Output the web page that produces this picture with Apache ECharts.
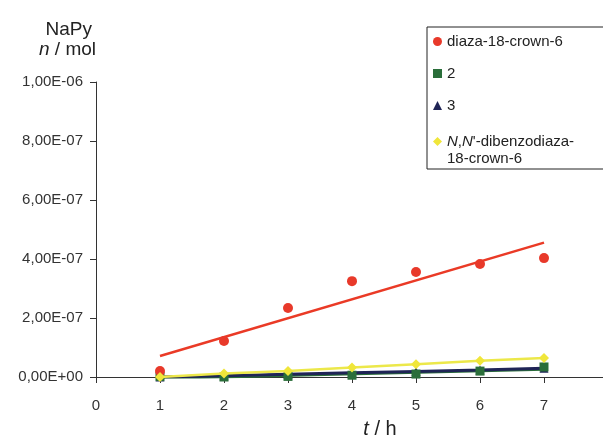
<!DOCTYPE html>
<html>
<head>
<meta charset="utf-8">
<script src="https://cdn.jsdelivr.net/npm/echarts@6/dist/echarts.min.js"></script>
<style>
  html, body { margin: 0; padding: 0; background: #fff; }
  #chart { width: 603px; height: 440px; }
</style>
</head>
<body>
<div id="chart"></div>
<script>
// hours
var hours = [1, 2, 3, 4, 5, 6, 7];
// n(NaPy) / mol
var diaza = [2.0e-8, 1.22e-7, 2.34e-7, 3.25e-7, 3.56e-7, 3.83e-7, 4.03e-7];
var comp2 = [0.2e-8, 0, 0.2e-8, 0.6e-8, 1.0e-8, 2.0e-8, 3.4e-8];
var comp3 = [0, 0.4e-8, 0.9e-8, 1.4e-8, 1.9e-8, 2.4e-8, 3.0e-8];
var dibenzo = [0, 1.2e-8, 2.0e-8, 3.2e-8, 4.3e-8, 5.5e-8, 6.4e-8];
var names = ['diaza-18-crown-6', '2', '3', "N,N'-dibenzodiaza-18-crown-6"];

var font = 'Liberation Sans, Arial, sans-serif';

function pairs(ys) {
	return hours.map(function(x, i){ return [x, ys[i]]; });
}

// least squares trend line, first and last hour
function trend(ys) {
	var n = hours.length, sx = 0, sy = 0, sxx = 0, sxy = 0;
	for (var i = 0; i < n; i++) {
		sx += hours[i]; sy += ys[i];
		sxx += hours[i] * hours[i]; sxy += hours[i] * ys[i];
	}
	var b = (n * sxy - sx * sy) / (n * sxx - sx * sx);
	var a = (sy - b * sx) / n;
	var x0 = hours[0], x1 = hours[n - 1];
	return [[x0, a + b * x0], [x1, a + b * x1]];
}

// 1,00E-06 style
function fmt(v) {
	var p = v.toExponential(2).split('e');
	var e = parseInt(p[1], 10);
	var ae = Math.abs(e);
	return p[0].replace('.', ',') + 'E' + (e < 0 ? '-' : '+') + (ae < 10 ? '0' : '') + ae;
}

var myChart = echarts.init(document.getElementById('chart'));

var option = {
	backgroundColor: '#fff',
	animation: false,
	grid: { left: 96, right: -5, top: 82, bottom: 63, outerBoundsMode: 'none' },
	legend: {
		orient: 'vertical',
		left: 427,
		top: 27,
		itemWidth: 9,
		itemHeight: 9,
		itemGap: 15,
		padding: [6, 30, 3, 6],
		borderColor: '#222',
		borderWidth: 1,
		textStyle: {
			fontFamily: font, fontSize: 15, color: '#222', lineHeight: 17,
			rich: { i: { fontFamily: font, fontSize: 15, fontStyle: 'italic', color: '#222', lineHeight: 17 } }
		},
		data: [
			{ name: names[0], icon: 'circle' },
			{ name: names[1], icon: 'rect' },
			{ name: names[2], icon: 'triangle' },
			{ name: names[3], icon: 'diamond', textStyle: { padding: [4, 0, -13, 0] } }
		],
		formatter: function(name) {
			if (name === names[3]) return "{i|N},{i|N}'-dibenzodiaza-\n18-crown-6";
			return name;
		}
	},
	xAxis: {
		type: 'value',
		min: 0, max: 8, interval: 1,
		name: '{i|t} / h',
		nameLocation: 'middle',
		nameGap: 42,
		nameTextStyle: {
			fontFamily: font, fontSize: 20, color: '#222', padding: [0, 0, 0, 56],
			rich: { i: { fontFamily: font, fontSize: 20, fontStyle: 'italic', color: '#222' } }
		},
		axisLine: { lineStyle: { color: '#333', width: 1 } },
		axisTick: { length: 6, lineStyle: { color: '#333' } },
		axisLabel: { margin: 21, fontFamily: font, fontSize: 15, color: '#333' },
		splitLine: { show: false }
	},
	yAxis: {
		type: 'value',
		min: 0, max: 1e-6, interval: 2e-7,
		name: '{t|NaPy}\n{i|n}{b| / mol}',
		nameLocation: 'end',
		nameGap: 22,
		nameTextStyle: {
			align: 'right',
			verticalAlign: 'bottom',
			rich: {
				t: { fontFamily: font, fontSize: 19, color: '#222', lineHeight: 20, align: 'right', padding: [0, 4, 0, 0] },
				b: { fontFamily: font, fontSize: 19, color: '#222', lineHeight: 20, align: 'right' },
				i: { fontFamily: font, fontSize: 19, fontStyle: 'italic', color: '#222', lineHeight: 20, align: 'right' }
			}
		},
		axisLine: { show: true, lineStyle: { color: '#333', width: 1 } },
		axisTick: { show: true, length: 6, lineStyle: { color: '#333' } },
		axisLabel: { margin: 13, fontFamily: font, fontSize: 15, color: '#333', formatter: fmt },
		splitLine: { show: false }
	},
	series: [
		{
			name: names[0], type: 'scatter', z: 5,
			symbol: 'circle', symbolSize: 10,
			itemStyle: { color: '#e8392a', opacity: 1 },
			data: pairs(diaza)
		},
		{
			name: names[1], type: 'scatter', z: 4,
			symbol: 'rect', symbolSize: 9,
			itemStyle: { color: '#2a6e3a', opacity: 1 },
			data: pairs(comp2)
		},
		{
			name: names[2], type: 'line', z: 3,
			symbol: 'triangle', symbolSize: 9, showAllSymbol: true,
			itemStyle: { color: '#1f2456' },
			lineStyle: { color: '#1f2456', width: 3 },
			data: pairs(comp3)
		},
		{
			name: names[3], type: 'line', z: 6,
			symbol: 'diamond', symbolSize: 10, showAllSymbol: true,
			itemStyle: { color: '#f0e63a' },
			lineStyle: { color: '#ece84a', width: 2.5 },
			data: pairs(dibenzo)
		},
		{
			name: 'trend-diaza', type: 'line', z: 2, silent: true,
			symbol: 'none',
			lineStyle: { color: '#ea3a26', width: 2.5 },
			data: trend(diaza)
		},
		{
			name: 'trend-2', type: 'line', z: 1, silent: true,
			symbol: 'none',
			lineStyle: { color: '#2a6e3a', width: 3 },
			data: trend(comp2)
		}
	]
};

myChart.setOption(option);
</script>
</body>
</html>
